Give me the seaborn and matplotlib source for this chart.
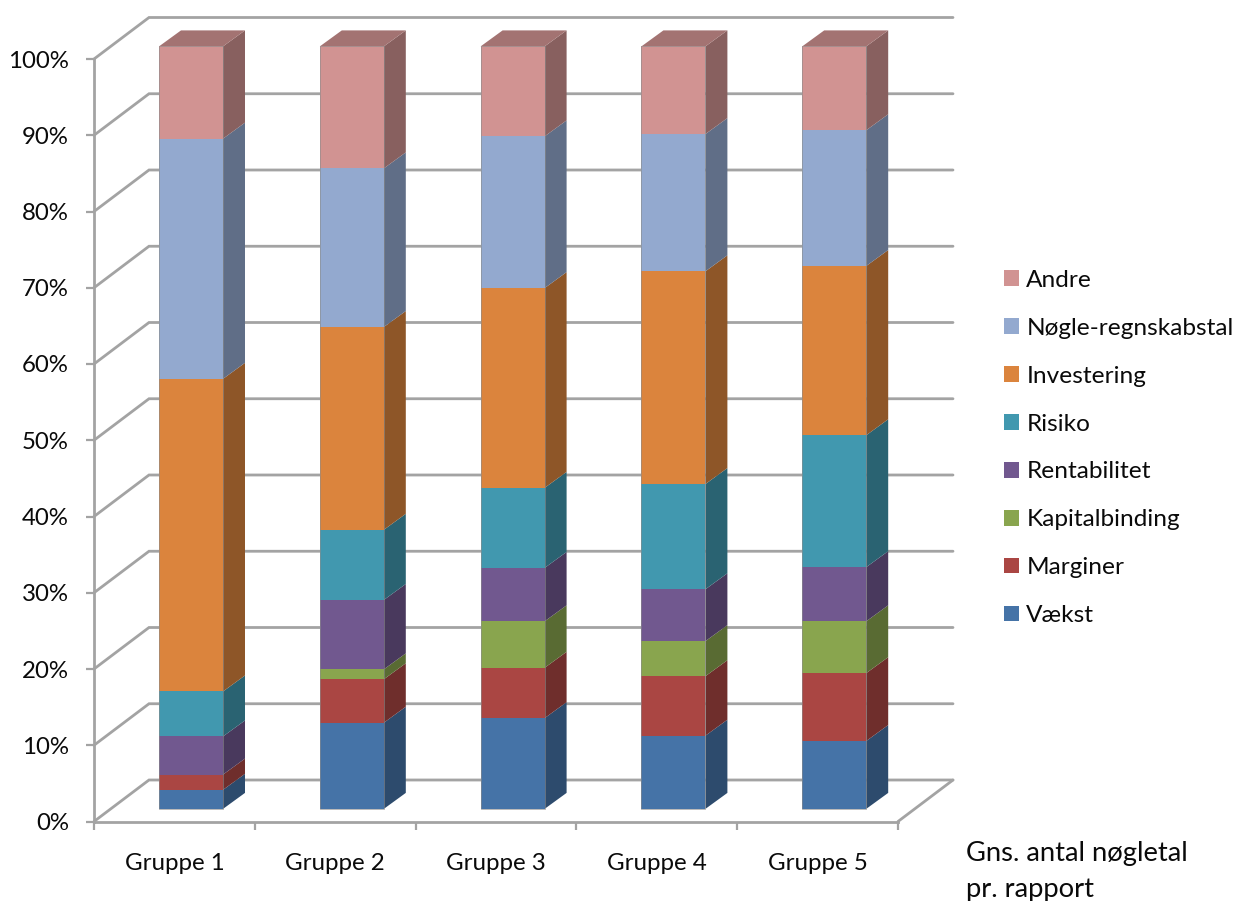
import numpy as np
import pandas as pd
import matplotlib
matplotlib.use("Agg")
import matplotlib.pyplot as plt
from matplotlib.patches import Patch
import seaborn as sns

# Share of key figures per report, percent, one list per category
groups = ["Gruppe 1", "Gruppe 2", "Gruppe 3", "Gruppe 4", "Gruppe 5"]
vaekst = [2.5, 11.3, 11.9, 9.6, 8.9]
marginer = [2.0, 5.7, 6.6, 7.8, 8.9]
kapitalbinding = [0.0, 1.3, 6.1, 4.6, 6.8]
rentabilitet = [5.0, 9.1, 7.0, 6.8, 7.1]
risiko = [5.9, 9.2, 10.5, 13.8, 17.3]
investering = [41.0, 26.6, 26.2, 27.9, 22.2]
noegletal = [31.5, 20.8, 19.9, 18.0, 17.8]
andre = [12.1, 16.0, 11.8, 11.5, 11.0]

series_names = ["Vækst", "Marginer", "Kapitalbinding", "Rentabilitet",
                "Risiko", "Investering", "Nøgle-regnskabstal", "Andre"]
series_values = [vaekst, marginer, kapitalbinding, rentabilitet,
                 risiko, investering, noegletal, andre]
colors = ["#4573A7", "#AA4643", "#89A54E", "#71588F",
          "#4198AF", "#DB843D", "#93A9CF", "#D19392"]

sns.set_theme(style="white")
plt.rcParams["font.family"] = ["Lato", "DejaVu Sans"]

FIG_W, FIG_H = 1235, 901
fig = plt.figure(figsize=(FIG_W / 100, FIG_H / 100), dpi=100)
left, right, bottom, top = 94, 898, 821.5, 59
ax = fig.add_axes([left / FIG_W, 1 - bottom / FIG_H,
                   (right - left) / FIG_W, (bottom - top) / FIG_H])

# Pseudo-3D depth, in data units of the front plane
px_x = (right - left) / 5
px_y = (bottom - top) / 100
WALL_DX, WALL_DY = 55 / px_x, 41.5 / px_y
BAR_FX, BAR_FY = 16.6 / px_x, 12.6 / px_y
BAR_DX, BAR_DY = 22 / px_x, 16 / px_y
BAR_W = 0.398

GRID = "#A3A3A3"
GRID_LW = 2.0

# Walls and floor behind the columns
for v in range(0, 101, 10):
    ax.plot([-0.5, -0.5 + WALL_DX, 4.5 + WALL_DX],
            [v, v + WALL_DY, v + WALL_DY],
            color=GRID, lw=GRID_LW, clip_on=False, zorder=1,
            solid_joinstyle="miter")
ax.plot([4.5, 4.5 + WALL_DX], [0, WALL_DY], color=GRID, lw=GRID_LW,
        clip_on=False, zorder=1)

# Front faces: cumulative columns painted from the tallest down
cum = np.cumsum(np.array(series_values), axis=0)
frame = pd.DataFrame({
    "group": np.tile(groups, len(series_names)),
    "series": np.repeat(series_names, len(groups)),
    "total": cum.ravel(),
})
sns.barplot(data=frame, x="group", y="total", hue="series",
            hue_order=series_names[::-1], palette=dict(zip(series_names, colors)),
            dodge=False, width=BAR_W, saturation=1, legend=False,
            errorbar=None, linewidth=0, ax=ax, zorder=4, clip_on=False)
for p in ax.patches:
    p.set_x(p.get_x() + BAR_FX)
    p.set_y(p.get_y() + BAR_FY)
    p.set_clip_on(False)


def shade(hex_color, factor):
    return tuple(c * factor for c in matplotlib.colors.to_rgb(hex_color))


# Side and top faces of each column
for i in range(len(groups)):
    xr = i + BAR_FX + BAR_W / 2
    xl = i + BAR_FX - BAR_W / 2
    lower = 0.0
    for s, color in enumerate(colors):
        upper = cum[s, i]
        if upper > lower:
            ax.fill([xr, xr + BAR_DX, xr + BAR_DX, xr],
                    [lower + BAR_FY, lower + BAR_FY + BAR_DY,
                     upper + BAR_FY + BAR_DY, upper + BAR_FY],
                    color=shade(color, 0.65), lw=0, zorder=3, clip_on=False)
        lower = upper
    y_top = cum[-1, i] + BAR_FY
    ax.fill([xl, xr, xr + BAR_DX, xl + BAR_DX],
            [y_top, y_top, y_top + BAR_DY, y_top + BAR_DY],
            color=shade(colors[-1], 0.78), lw=0, zorder=3, clip_on=False)
    # Thin outline around the front face
    ax.plot([xl, xl, xr, xr, xl],
            [y_top, BAR_FY, BAR_FY, y_top, y_top],
            color="#8C8C8C", lw=0.7, alpha=0.6, zorder=5, clip_on=False)

# Axes
ax.set_xlim(-0.5, 4.5)
ax.set_ylim(0, 100)
ax.set_xlabel("")
ax.set_ylabel("")
ax.patch.set_alpha(0)
for name in ("top", "right"):
    ax.spines[name].set_visible(False)
for name in ("left", "bottom"):
    ax.spines[name].set_color(GRID)
    ax.spines[name].set_linewidth(GRID_LW)
    ax.spines[name].set_zorder(2)

ax.set_yticks(range(0, 101, 10))
ax.set_yticklabels([f"{v}%" for v in range(0, 101, 10)], fontsize=17.3, color="#0A0A0A")
ax.tick_params(axis="y", left=True, length=6, width=1.6, color=GRID, pad=12)

ax.set_xticks(np.arange(-0.5, 5, 1))
ax.set_xticklabels([])
ax.set_xticks(range(5), labels=groups, minor=True)
ax.tick_params(axis="x", which="major", bottom=True, length=6, width=1.6, color=GRID)
ax.tick_params(axis="x", which="minor", bottom=False, length=0, pad=23,
               labelsize=17.4, labelcolor="#0A0A0A")

# Legend, top entry first
handles = [Patch(facecolor=c, edgecolor="none", label=n)
           for n, c in zip(series_names[::-1], colors[::-1])]
fig.legend(handles=handles, loc="center left",
           bbox_to_anchor=(997 / FIG_W, 1 - 448 / FIG_H), frameon=False,
           fontsize=17.6, labelspacing=1.1, handlelength=0.61, handleheight=0.61,
           handletextpad=0.29, labelcolor="#0A0A0A", borderpad=0.3, borderaxespad=0)

# Caption to the right of the axis labels
fig.text(966 / FIG_W, 1 - 853 / FIG_H, "Gns. antal nøgletal", fontsize=19.7,
         color="#0A0A0A", va="center", ha="left")
fig.text(966 / FIG_W, 1 - 889 / FIG_H, "pr. rapport", fontsize=19.7,
         color="#0A0A0A", va="center", ha="left")

fig.savefig("out.png", dpi=100, facecolor="white")
